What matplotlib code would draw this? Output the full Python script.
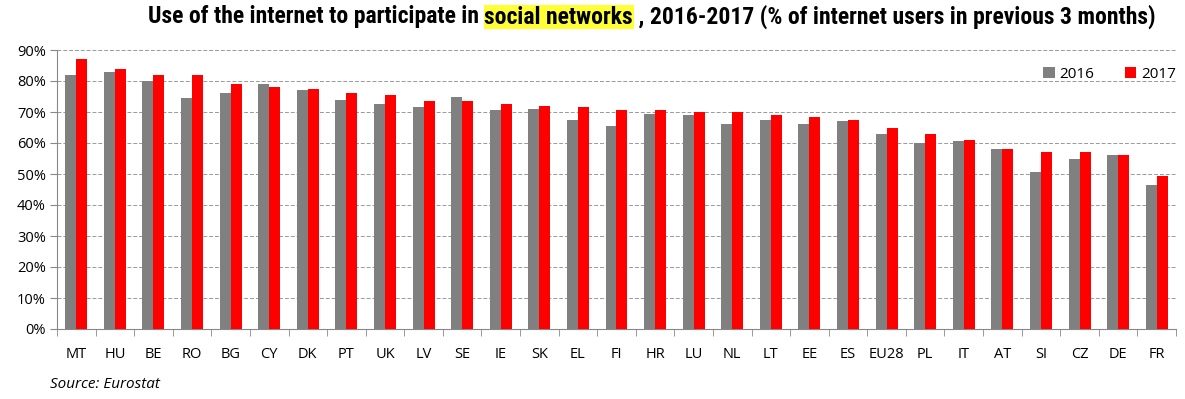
import matplotlib
matplotlib.use("Agg")
import matplotlib.pyplot as plt
from matplotlib import font_manager
import numpy as np

countries = ["MT", "HU", "BE", "RO", "BG", "CY", "DK", "PT", "UK", "LV", "SE", "IE", "SK", "EL",
             "FI", "HR", "LU", "NL", "LT", "EE", "ES", "EU28", "PL", "IT", "AT", "SI", "CZ", "DE", "FR"]
v2016 = [82, 83, 80, 74.5, 76, 79, 77, 74, 72.5, 71.5, 75, 70.5, 71, 67.5,
         65.5, 69.5, 69, 66, 67.5, 66, 67, 63, 60, 60.5, 58, 50.5, 55, 56, 46.5]
v2017 = [87, 84, 82, 82, 79, 78, 77.5, 76, 75.5, 73.5, 73.5, 72.5, 72, 71.5,
         70.5, 70.5, 70, 70, 69, 68.5, 67.5, 65, 63, 61, 58, 57, 57, 56, 49.5]
yticks = [0, 10, 20, 30, 40, 50, 60, 70, 80, 90]
series_names = ["2016", "2017"]

avail = {f.name for f in font_manager.fontManager.ttflist}
title_font = "Liberation Sans"
for cand in ["Liberation Sans Narrow", "DejaVu Sans Condensed", "Roboto Condensed", "Open Sans Condensed"]:
    if cand in avail:
        title_font = cand
        break
body_font = "Open Sans" if "Open Sans" in avail else "DejaVu Sans"

W, H = 1185, 399
fig = plt.figure(figsize=(W / 100, H / 100), dpi=100)
ax = fig.add_axes([57 / W, (H - 329) / H, (1176 - 57) / W, (329 - 50) / H])

x = np.arange(len(countries))
bw = 0.285
ax.bar(x - bw / 2, v2016, width=bw, color="#808080", label=series_names[0], zorder=3)
ax.bar(x + bw / 2, v2017, width=bw, color="#FF0000", label=series_names[1], zorder=3)

ax.set_xlim(-0.5, len(countries) - 0.5)
ax.set_ylim(0, 90)
ax.set_yticks(yticks)
ax.set_yticklabels([f"{t}%" for t in yticks], fontsize=10.5, family=body_font)
ax.set_xticks(x)
ax.set_xticklabels(countries, fontsize=10.5, family=body_font)
ax.set_xticks(np.arange(len(countries) + 1) - 0.5, minor=True)
ax.tick_params(axis="x", which="major", length=0, pad=13)
ax.tick_params(axis="x", which="minor", length=5, color="#888888", direction="out")
ax.tick_params(axis="y", length=5, color="#888888", pad=3)

for s in ["top", "right"]:
    ax.spines[s].set_visible(False)
ax.spines["left"].set_color("#888888")
ax.spines["bottom"].set_color("#888888")
ax.grid(axis="y", linestyle=(0, (4, 2)), color="#999999", linewidth=0.7, zorder=0)
ax.set_axisbelow(True)

leg = ax.legend(loc="upper right", bbox_to_anchor=(1.012, 0.99), ncol=2, frameon=False,
                prop={"family": body_font, "size": 11},
                handlelength=0.75, handleheight=0.75, handletextpad=0.3, columnspacing=2.0)

# Title in pieces with highlighted part
parts = ["Use of the internet to participate in ", "social networks", " , 2016-2017 (% of internet users in previous 3 months)"]
fs = 14
renderer = fig.canvas.get_renderer()
def measure(s, size):
    t = fig.text(0, 0, s, fontsize=size, fontweight="bold", family=title_font)
    bb = t.get_window_extent(renderer)
    t.remove()
    return bb.width
total = sum(measure(p, fs) for p in parts)
fs = fs * 1009 / total
xpos = 148
ytitle = H - 17
for i, p in enumerate(parts):
    kw = {}
    if i == 1:
        kw["bbox"] = dict(facecolor="#FFFF33", edgecolor="none", pad=0.5)
    t = fig.text(xpos / W, ytitle / H, p, fontsize=fs, fontweight="bold", family=title_font,
                 ha="left", va="center", **kw)
    xpos += t.get_window_extent(renderer).width

fig.text(50 / W, (H - 385) / H, "Source: Eurostat", fontsize=11, style="italic",
         family=body_font, ha="left", va="center")

fig.savefig("out.png", dpi=100)
